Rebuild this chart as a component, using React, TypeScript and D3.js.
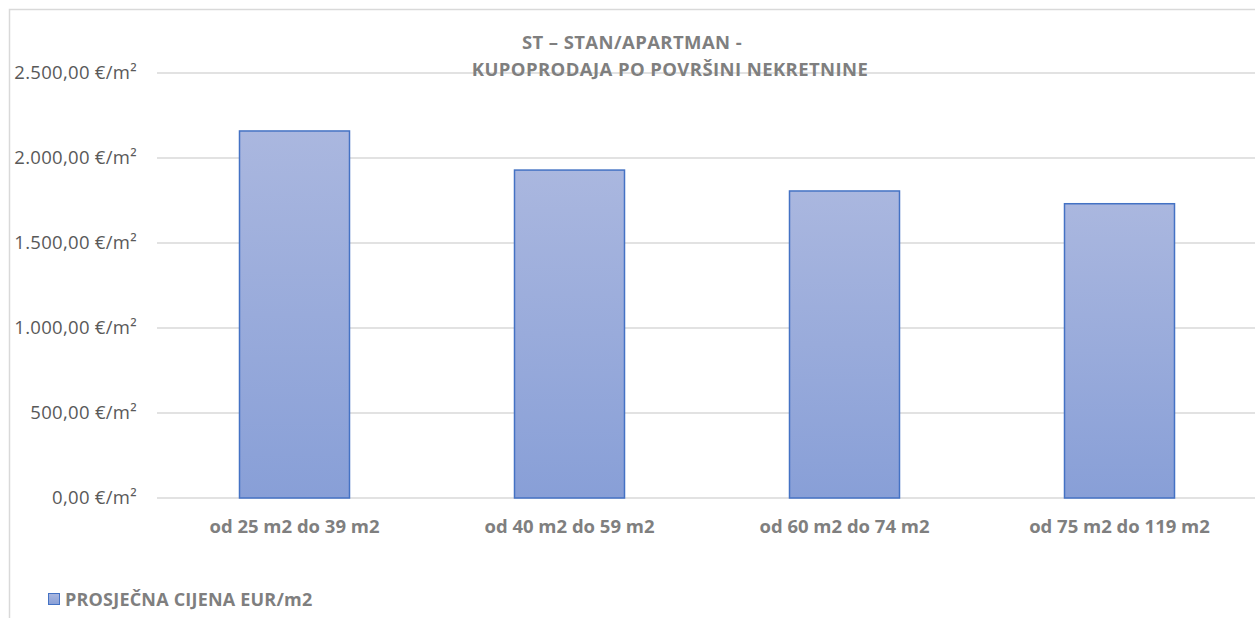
import React from "react";
import * as d3 from "d3";

const categories = ["od 25 m2 do 39 m2", "od 40 m2 do 59 m2", "od 60 m2 do 74 m2", "od 75 m2 do 119 m2"];
const values = [2159, 1929, 1806, 1731];
const yTicks = [0, 500, 1000, 1500, 2000, 2500];
const titleLines = ["ST – STAN/APARTMAN -", "KUPOPRODAJA PO POVRŠINI NEKRETNINE"];
const seriesName = "PROSJEČNA CIJENA EUR/m2";

const fmt = (v: number) => {
  const s = v.toFixed(2).replace(".", ",");
  const [i, d] = s.split(",");
  return i.replace(/\B(?=(\d{3})+(?!\d))/g, ".") + "," + d + " €/m²";
};

export default function App() {
  const W = 1255, H = 618;
  const x = d3.scaleBand<string>().domain(categories).range([157, 1257]).paddingInner(0.6).paddingOuter(0.3);
  const y = d3.scaleLinear().domain([0, 2500]).range([498, 73]);
  const font = "'Open Sans', sans-serif";
  return (
    <svg width={W} height={H} style={{ position: "absolute", left: 0, top: 0 }} fontFamily={font}>
      <defs>
        <linearGradient id="bg" x1="0" y1="0" x2="0" y2="1">
          <stop offset="0" stopColor="#aab7df" />
          <stop offset="1" stopColor="#889fd7" />
        </linearGradient>
      </defs>
      <rect x={0} y={0} width={W} height={H} fill="#fff" />
      <path d={`M9.5,${H} V9.5 H${W}`} fill="none" stroke="#d9d9d9" strokeWidth={1.5} />
      {yTicks.map((t) => (
        <g key={t}>
          <line x1={157} x2={W} y1={y(t)} y2={y(t)} stroke="#d9d9d9" strokeWidth={1.5} />
          <text x={137} y={y(t)} dy="0.35em" textAnchor="end" fontSize={18.5} letterSpacing={0.3} fill="#595959">{fmt(t)}</text>
        </g>
      ))}
      {titleLines.map((l, i) => (
        <text key={i} x={i === 0 ? 632 : 670} y={i === 0 ? 49 : 76} textAnchor="middle" fontSize={18.5} letterSpacing={0.4} fontWeight="bold" fill="#7f7f7f">{l}</text>
      ))}
      {categories.map((c, i) => (
        <g key={c}>
          <rect x={x(c)!} y={y(values[i])} width={x.bandwidth()} height={y(0) - y(values[i])} fill="url(#bg)" stroke="#4472c4" strokeWidth={1.5} />
          <text x={x(c)! + x.bandwidth() / 2} y={533} textAnchor="middle" fontSize={18.5} fontWeight="bold" fill="#7f7f7f">{c}</text>
        </g>
      ))}
      <rect x={48.5} y={593.5} width={11} height={11} fill="url(#bg)" stroke="#4472c4" strokeWidth={1} />
      <text x={65} y={605.5} fontSize={18} letterSpacing={0.2} fontWeight="bold" fill="#7f7f7f">{seriesName}</text>
    </svg>
  );
}
